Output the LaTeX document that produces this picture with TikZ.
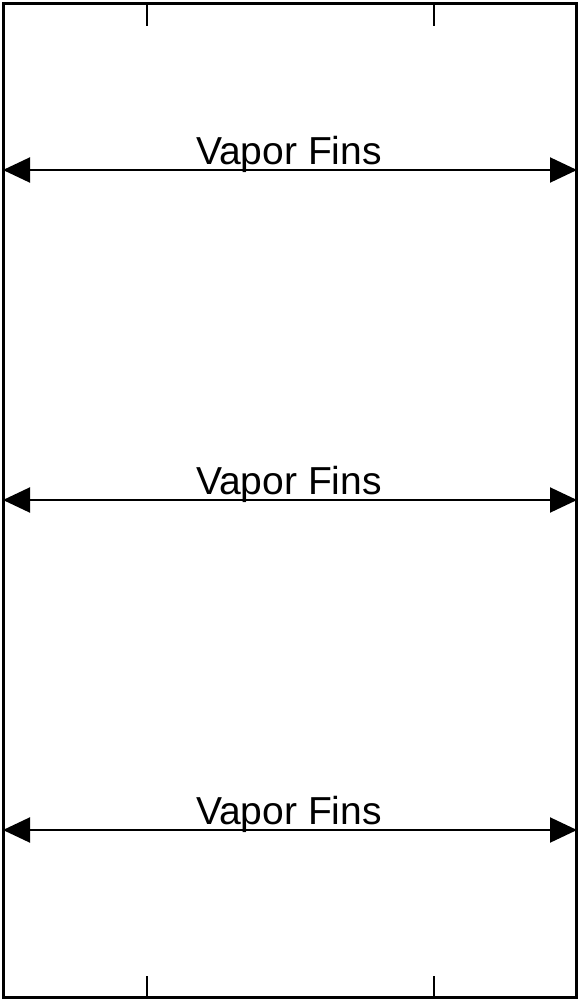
\documentclass[tikz,border=0pt]{standalone}
\usepackage{fontspec}
\setmainfont{Liberation Sans}
\usetikzlibrary{arrows.meta}
\begin{document}
\begin{tikzpicture}[x=1pt,y=-1pt,
  frame/.style={line width=2.5pt},
  tick/.style={line width=2.5pt},
  dimarrow/.style={line width=2pt,{Triangle[length=27pt,width=25pt]}-{Triangle[length=27pt,width=25pt]}},
  lbl/.style={anchor=base,inner sep=0pt,font=\fontsize{39}{47}\selectfont}]
\useasboundingbox (0,0) rectangle (580,1001);
\draw[frame] (3.5,3.5) rectangle (576.5,997.5);
\coordinate (t1a) at (147,3.5); \coordinate (t1b) at (147,26);
\coordinate (t2a) at (434,3.5); \coordinate (t2b) at (434,26);
\coordinate (b1a) at (147,997.5); \coordinate (b1b) at (147,976);
\coordinate (b2a) at (434,997.5); \coordinate (b2b) at (434,976);
\draw[tick] (t1a) -- (t1b);
\draw[tick] (t2a) -- (t2b);
\draw[tick] (b1a) -- (b1b);
\draw[tick] (b2a) -- (b2b);
\foreach \y/\n in {170/1,500/2,830/3}{
  \coordinate (l\n) at (3,\y);
  \coordinate (r\n) at (577,\y);
  \draw[dimarrow] (l\n) -- (r\n);
  \node[lbl] (v\n) at (289,\y-6) {Vapor Fins};
}
\end{tikzpicture}
\end{document}
